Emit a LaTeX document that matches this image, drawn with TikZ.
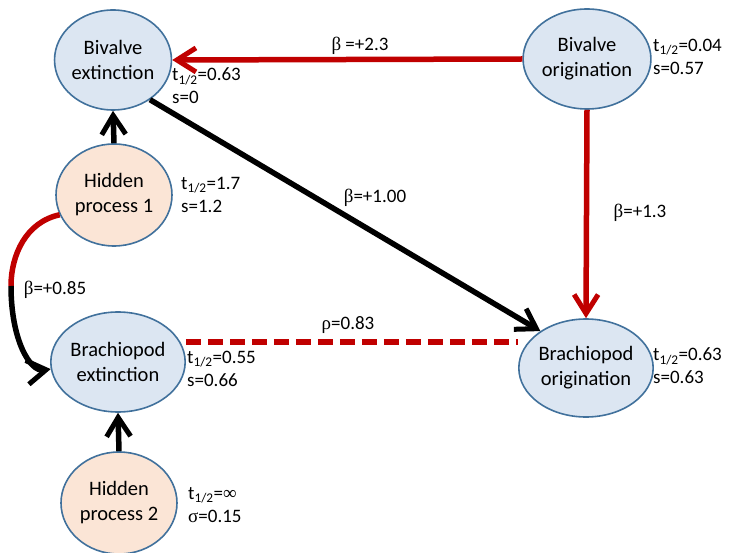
\documentclass[tikz,border=0pt]{standalone}
\usepackage{fontspec}
\setmainfont{Carlito}
\newfontfamily\grk{Liberation Serif}
\usetikzlibrary{shapes.geometric,arrows.meta}

\definecolor{nodeblue}{HTML}{DCE6F2}
\definecolor{nodepeach}{HTML}{FBE5D6}
\definecolor{nodeedge}{HTML}{41719C}
\definecolor{linkred}{HTML}{C00000}

\newcommand{\half}{t\textsubscript{1/2}}

\tikzset{
  proc/.style={ellipse, draw=nodeedge, line width=1.6pt, inner sep=0pt,
    align=center, font=\fontsize{20.5}{25}\selectfont},
  observed/.style={proc, fill=nodeblue, minimum width=106pt, minimum height=100pt},
  hidden/.style={proc, fill=nodepeach, minimum width=116pt, minimum height=102pt},
  stats/.style={anchor=west, align=left, inner sep=0pt,
    font=\fontsize{19}{23}\selectfont},
  coef/.style={inner sep=0pt, font=\fontsize{19}{22}\selectfont},
  thick link/.style={line width=5.5pt},
  link/.style={thick link, -{Straight Barb[length=19pt,width=24pt,line width=5pt]}},
}

\begin{document}
\begin{tikzpicture}[x=1pt,y=-1pt]
\useasboundingbox (0,0) rectangle (731,553);

% process nodes
\node[observed] (bext)   at (113,60)  {Bivalve\\extinction};
\node[observed, minimum width=112pt] (borig)  at (587,59)  {Bivalve\\origination};
\node[hidden]   (hid1)   at (114,195) {Hidden\\process 1};
\node[observed, minimum width=110pt] (bpext)  at (118,362) {Brachiopod\\extinction};
\node[observed, minimum width=114pt, minimum height=98pt] (bporig) at (586,368) {Brachiopod\\origination};
\node[hidden]   (hid2)   at (119,503) {Hidden\\process 2};

% half-lives and spreads
\node[stats] (sbext)   at (172,86)  {\half=0.63\\s=0};
\node[stats] (shid1)   at (181,195) {\half=1.7\\s=1.2};
\node[stats] (sborig)  at (653,57)  {\half=0.04\\s=0.57};
\node[stats] (sbporig) at (653,366) {\half=0.63\\s=0.63};
\node[stats] (sbpext)  at (187,369) {\half=0.55\\s=0.66};
\node[stats] (shid2)   at (188,505) {\half={\grk ∞}\\{\grk σ}=0.15};

% directed links
\draw[link, linkred] (borig.west) -- (bext.east);
\draw[link, linkred] (borig.south) -- (bporig.north);
\draw[link, black] (bext.-47) -- (bporig.141);
\draw[link, black] (hid1.north) -- (bext.south);
\draw[link, black] (hid2.north) -- (bpext.south);

% curved link from hidden process 1, red then black
\coordinate (bend) at (11,286);
\draw[thick link, linkred] (hid1.200) .. controls (26,222) and (11,255) .. (bend);
\draw[link, black] (bend) .. controls (11,340) and (30,372) .. (bpext.186);

% correlation
\draw[thick link, linkred, dash pattern=on 15pt off 7pt] (bpext.east |- 0,342) -- (bporig.west |- 0,342);

% coefficients
\node[coef] (c1) at (360,46)  {{\grk β} =+2.3};
\node[coef] (c2) at (375,198) {{\grk β}=+1.00};
\node[coef] (c3) at (640,213) {{\grk β}=+1.3};
\node[coef] (c4) at (55,290)  {{\grk β}=+0.85};
\node[coef] (c5) at (348,325) {{\grk ρ}=0.83};
\end{tikzpicture}
\end{document}
